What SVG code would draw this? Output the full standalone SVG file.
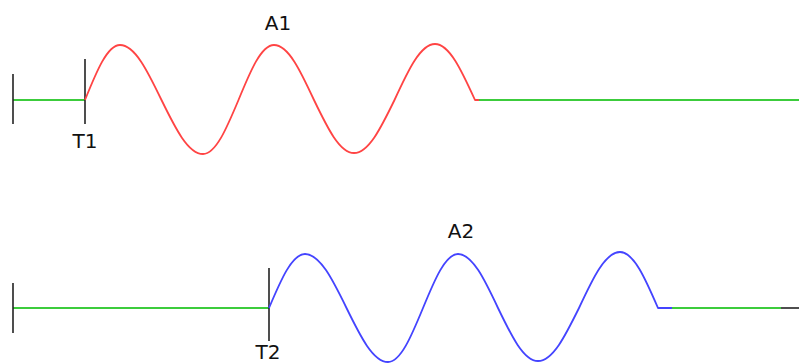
<svg xmlns="http://www.w3.org/2000/svg" width="799" height="364" viewBox="0 0 799 364">
<style>
.tick{stroke:#222;stroke-width:1.6;fill:none}
.base{stroke:#3ccc3c;stroke-width:2;fill:none}
.w1{stroke:#ff4444;stroke-width:1.8;fill:none;stroke-linejoin:round}
.w2{stroke:#4444ff;stroke-width:1.8;fill:none;stroke-linejoin:round}
.lbl{font-family:"DejaVu Sans",Verdana,sans-serif;font-size:20px;fill:#111;text-anchor:middle}
</style>
<rect width="799" height="364" fill="#fff"/>
<g id="connectors">
<path class="base" d="M13 100H85"/>
<path class="base" d="M476 100H799"/>
<path class="base" d="M13 308H269"/>
<path class="base" d="M660 308H781"/>
<path class="tick" d="M781 308H799"/>
</g>
<g id="signal1">
<path class="tick" d="M13 74V124"/>
<path class="tick" d="M85 59V124"/>
<path class="w1" d="M85 100C96.7 71.1 107.4 45 120 45C134.9 45 147.6 71.1 161.5 100C175.4 128.4 188.1 154 203 154C215.8 154 226.6 128.4 238.5 100C250.4 71.1 261.2 45 274 45C288.4 45 300.6 71.1 314 100C327.4 127.8 339.6 153 354 153C368.6 153 381 127.8 394.5 100C408 70.6 420.4 44 435 44C449.4 44 461.6 70.6 475 100L479 100"/>
<text class="lbl" x="278" y="30">A1</text>
<text class="lbl" x="85" y="148">T1</text>
</g>
<g id="signal2">
<path class="tick" d="M13 283V333"/>
<path class="tick" d="M269 268V341"/>
<path class="w2" d="M269 308C281 279.6 292 254 305 254C319.9 254 332.6 279.6 346.5 308C360.4 336.4 373.1 362 388 362C400.6 362 411.3 336.4 423 308C434.7 279.6 445.4 254 458 254C472.4 254 484.6 279.6 498 308C511.4 335.8 523.6 361 538 361C552.8 361 565.3 335.8 579 308C592.7 278.6 605.2 252 620 252C633.7 252 645.3 278.6 658 308L672 308"/>
<text class="lbl" x="461" y="238">A2</text>
<text class="lbl" x="268" y="359">T2</text>
</g>
</svg>
